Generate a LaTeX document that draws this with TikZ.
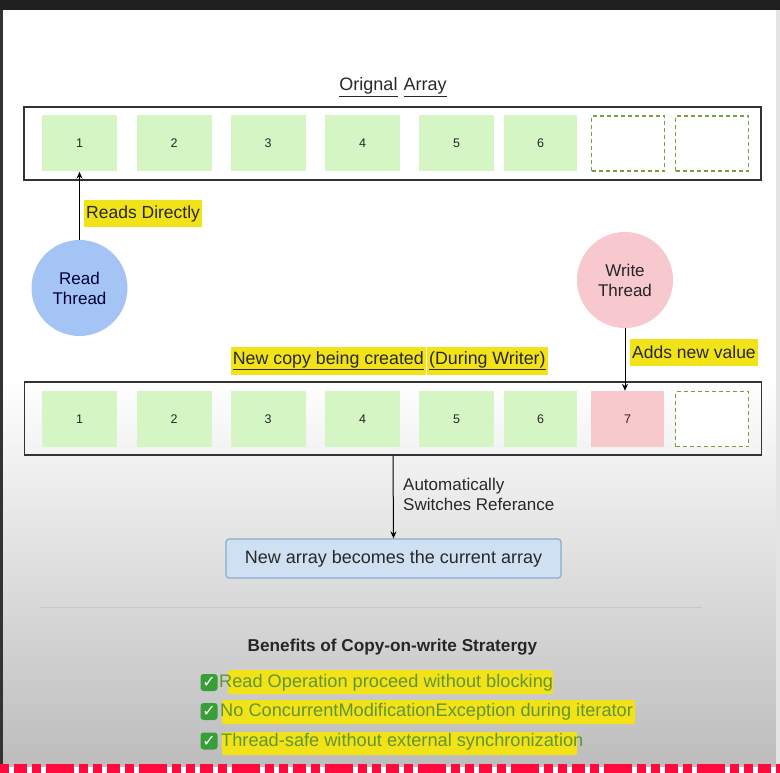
\documentclass[tikz,border=0pt]{standalone}
\usepackage{fontspec}
\setmainfont{Liberation Sans}
\newfontfamily\symfont{DejaVu Sans}
\usetikzlibrary{arrows.meta,calc}
\definecolor{cellgreen}{RGB}{214,245,196}
\definecolor{dashgreen}{RGB}{120,160,60}
\definecolor{cellpink}{RGB}{247,200,204}
\definecolor{readblue}{RGB}{164,196,245}
\definecolor{writepink}{RGB}{247,200,205}
\definecolor{boxfill}{RGB}{207,224,242}
\definecolor{boxdraw}{RGB}{140,170,205}
\definecolor{hlyellow}{RGB}{242,226,24}
\definecolor{checkgreen}{RGB}{56,158,56}
\definecolor{itemgreen}{RGB}{98,150,50}
\definecolor{textdark}{RGB}{40,40,40}
\definecolor{barred}{RGB}{255,10,60}
\begin{document}
\begin{tikzpicture}[x=1pt,y=-1pt,
  cellbox/.style={minimum width=75pt,minimum height=56pt,inner sep=0pt,fill=cellgreen,
    font=\fontsize{12.5}{13}\selectfont,text=black!85},
  emptybox/.style={minimum width=73pt,minimum height=55pt,inner sep=0pt,fill=white,
    draw=dashgreen,line width=1.5pt,dash pattern=on 4pt off 3pt},
  arraybox/.style={draw=black!80,line width=1.5pt,minimum width=737pt,minimum height=73pt,inner sep=0pt},
  thread/.style={circle,minimum size=96pt,inner sep=0pt,align=center,
    font=\fontsize{17}{20}\selectfont,text=black!85},
  label/.style={font=\fontsize{17.5}{20}\selectfont,text=textdark,inner sep=2pt},
  hl/.style={fill=hlyellow},
  conn/.style={-{Stealth[length=7pt,width=6pt]},line width=1pt,black},
  item/.style={font=\fontsize{18.2}{20}\selectfont,text=itemgreen,anchor=west,inner sep=0pt},
  check/.style={fill=checkgreen,rounded corners=3pt,minimum size=17pt,inner sep=0pt,
    text=white,font=\symfont\bfseries\fontsize{16}{16}\selectfont}
]
\useasboundingbox (0,0) rectangle (780,773);
% background
\fill[white] (0,0) rectangle (780,773);
\shade[top color=white,bottom color=black!26] (0,380) rectangle (780,766);
\fill[black!88] (0,0) rectangle (780,10);
\fill[black!80] (0,10) rectangle (3,766);
\fill[black!10] (776,10) rectangle (780,766);
\draw[barred,line width=9pt,dash pattern=on 9pt off 5pt on 13pt off 5pt on 9pt off 5pt on 28pt off 5pt on 9pt off 5pt]
  (0,768.5) -- (780,768.5);

% ---- original array
\node[font=\fontsize{18}{20}\selectfont,text=textdark] (title1) at (393,87) {\underline{Orignal}\,\,\underline{Array}};
\node[arraybox] (arrA) at (392.5,143.5) {};
\node[cellbox] (a1) at (79.5,143.5) {1};
\node[cellbox] (a2) at (174,143.5) {2};
\node[cellbox] (a3) at (268,143.5) {3};
\node[cellbox] (a4) at (362.5,143.5) {4};
\node[cellbox] (a5) at (456.5,143.5) {5};
\node[cellbox,minimum width=73pt] (a6) at (540.5,143.5) {6};
\node[emptybox] (a7) at (628,143.5) {};
\node[emptybox] (a8) at (712,143.5) {};

% ---- threads
\node[thread,fill=readblue,text=black!80!blue] (read) at (79.5,288) {Read\\Thread};
\node[thread,fill=writepink] (write) at (625,280) {Write\\Thread};

\draw[conn] (read.north) -- (a1.south);
\node[label,hl,anchor=west,minimum height=27pt] (readlbl) at (84,214) {Reads Directly};

% ---- new copy
\node[label,hl,anchor=east,minimum height=28pt,font=\fontsize{17.8}{20}\selectfont] (nc1) at (426,361) {\underline{New copy being created}};
\node[label,hl,anchor=west,minimum height=28pt,font=\fontsize{17.8}{20}\selectfont] (nc2) at ([xshift=1pt]nc1.east) {\underline{(During Writer)}};

\node[arraybox] (arrB) at (393,418.5) {};
\node[cellbox] (b1) at (79.5,419) {1};
\node[cellbox] (b2) at (174,419) {2};
\node[cellbox] (b3) at (268,419) {3};
\node[cellbox] (b4) at (362.5,419) {4};
\node[cellbox] (b5) at (456.5,419) {5};
\node[cellbox,minimum width=73pt] (b6) at (540.5,419) {6};
\node[cellbox,fill=cellpink,minimum width=73pt] (b7) at (627.5,419) {7};
\node[emptybox] (b8) at (712,419) {};

\draw[conn] (write.south) -- (write.south |- b7.north);
\node[label,hl,anchor=west,minimum height=27pt] (addlbl) at (630,352) {Adds new value};

% ---- switch
\node[draw=boxdraw,fill=boxfill,line width=1.2pt,rounded corners=3pt,minimum width=335pt,minimum height=39pt,
  font=\fontsize{18}{20}\selectfont,text=textdark] (newarr) at (393.5,558.5) {New array becomes the current array};
\draw[conn] (arrB.south) -- (newarr.north);
\node[label,anchor=north west,align=left,inner sep=0pt,font=\fontsize{17}{20}\selectfont] (autolbl) at (403,478)
  {Automatically\\Switches Referance};

\draw[black!22,line width=1pt] (40,607) -- (702,607);

% ---- benefits
\node[font=\bfseries\fontsize{17.2}{20}\selectfont,text=black!85] (bentitle) at (392.5,647) {Benefits of Copy-on-write Stratergy};

\fill[hlyellow,rounded corners=2pt] (228,670) rectangle (553,694);
\fill[hlyellow,rounded corners=2pt] (222,700) rectangle (635,724);
\fill[hlyellow,rounded corners=2pt] (222,732) rectangle (577,755);

\node[check] (ck1) at (209,682.5) {✓};
\node[check] (ck2) at (209,711.5) {✓};
\node[check] (ck3) at (209,741) {✓};
\node[item] (it1) at (219,682.5) {Read Operation proceed without blocking};
\node[item] (it2) at (220,712) {No ConcurrentModificationException during iterator};
\node[item] (it3) at (221,742) {Thread-safe without external synchronization};
\end{tikzpicture}
\end{document}
